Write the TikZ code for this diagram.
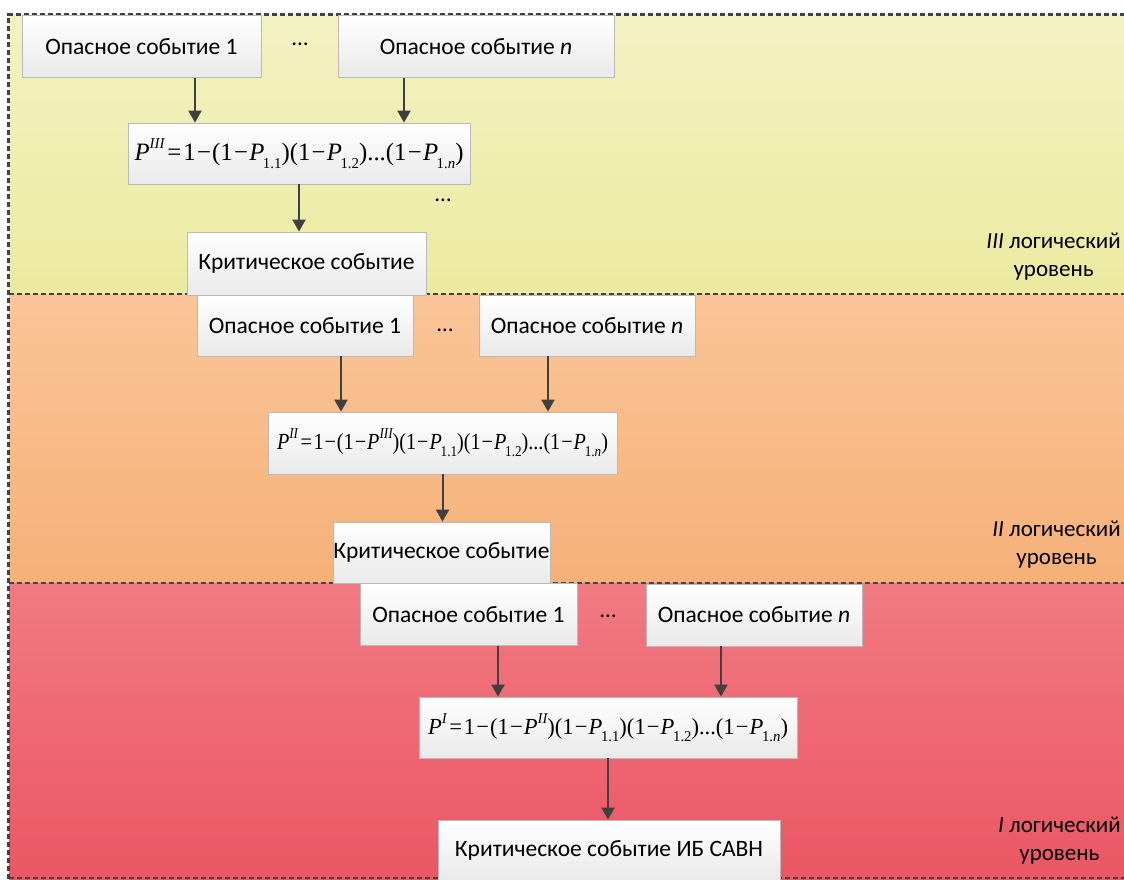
\documentclass[tikz,border=0pt]{standalone}
\usepackage{fontspec}
\setmainfont{Carlito}
\newfontfamily\tmsfont{Liberation Serif}
\usetikzlibrary{arrows.meta}

\definecolor{ylwtop}{RGB}{243,242,194}
\definecolor{ylwbot}{RGB}{236,234,160}
\definecolor{orgtop}{RGB}{250,197,152}
\definecolor{orgbot}{RGB}{246,176,120}
\definecolor{redtop}{RGB}{241,122,130}
\definecolor{redbot}{RGB}{235,86,100}
\definecolor{framec}{RGB}{60,68,78}
\definecolor{arrowc}{RGB}{64,64,64}

% pieces of the probability formulas
\newcommand\hiscr[1]{\raisebox{0.48em}{\fontsize{15}{15}\selectfont\itshape #1}}
\newcommand\loscr[1]{\kern-0.06em\raisebox{-0.3em}{\fontsize{15}{15}\selectfont #1}}
\newcommand\PV{\textit{P}}
\newcommand\mn{\kern0.05em−\kern0.05em}
\newcommand\eqs{\kern0.12em=\kern0.08em}
% formula set at a given size, then squeezed to a given width
\newlength\frmw
\newcommand\frm[3]{{\tmsfont\fontsize{#2}{30}\selectfont
  \settowidth\frmw{#3}\pgfmathsetmacro\frmsx{#1/\frmw}\scalebox{\frmsx}[1]{#3}}}

\tikzset{
  evbox/.style={draw=gray!55, line width=0.8pt, top color=white, bottom color=gray!17,
    font=\fontsize{23.5}{27}\selectfont, inner sep=0pt, minimum height=62},
  arr/.style={draw=arrowc, line width=2pt, -{Triangle[width=13pt,length=12pt]}},
  frame/.style={draw=framec, line width=2.2pt, dash pattern=on 5pt off 3pt},
  lvl/.style={align=center, font=\fontsize{23}{28}\selectfont, anchor=east, inner sep=0pt},
  dots/.style={font=\fontsize{23}{27}\selectfont, inner sep=0pt}
}

\begin{document}
\begin{tikzpicture}[x=1pt,y=-1pt]
\useasboundingbox (0,0) rectangle (1124,879);

% level bands
\shade[top color=ylwtop, bottom color=ylwbot] (9,14) rectangle (1124,294);
\shade[top color=orgtop, bottom color=orgbot] (9,294) rectangle (1124,583);
\shade[top color=redtop, bottom color=redbot] (9,583) rectangle (1124,879);

% dashed frame and level separators
\draw[frame] (8.5,879) -- (8.5,14.5) -- (1124,14.5);
\draw[frame] (8.5,294) -- (1124,294);
\draw[frame] (8.5,583) -- (1124,583);
\draw[frame] (8.5,878) -- (1124,878);

% level III
\node[evbox, minimum width=239] (a1) at (141.5,46.5) {Опасное событие 1};
\node[evbox, minimum width=276] (an) at (476,46.5) {Опасное событие \textit{n}};
\node[dots] (ad) at (300,44) {…};
\node[evbox, minimum width=342, minimum height=61] (f3) at (299,153.5)
  {\frm{329}{25}{\PV\hiscr{III}\eqs1\mn(1\mn\PV\loscr{1.1})(1\mn\PV\loscr{1.2})...(1\mn\PV\loscr{1.\textit{n}})}};
\node[dots] (fd3) at (443,200) {…};
\node[evbox, minimum width=239, minimum height=63] (k3) at (306.5,263.5) {Критическое событие};
\node[lvl] (l3) at (1121,257) {\textit{III} логический\\уровень};

\draw[arr] ([xshift=53.5pt]a1.south) -- ([xshift=53.5pt]a1.south |- f3.north);
\draw[arr] ([xshift=-72pt]an.south) -- ([xshift=-72pt]an.south |- f3.north);
\draw[arr] (f3.south) -- (f3.south |- k3.north);

% level II
\node[evbox, minimum width=216, minimum height=61] (b1) at (305,325.5) {Опасное событие 1};
\node[evbox, minimum width=216, minimum height=61] (bn) at (587,325.5) {Опасное событие \textit{n}};
\node[dots] (bd) at (445,330) {…};
\node[evbox, minimum width=349] (f2) at (442.5,443)
  {\frm{331}{23}{\PV\hiscr{II}\eqs1\mn(1\mn\PV\hiscr{III})(1\mn\PV\loscr{1.1})(1\mn\PV\loscr{1.2})...(1\mn\PV\loscr{1.\textit{n}})}};
\node[evbox, minimum width=217, minimum height=61] (k2) at (441.5,552.5) {Критическое событие};
\node[lvl] (l2) at (1121,545) {\textit{II} логический\\уровень};

\draw[arr] ([xshift=36pt]b1.south) -- ([xshift=36pt]b1.south |- f2.north);
\draw[arr] ([xshift=-39pt]bn.south) -- ([xshift=-39pt]bn.south |- f2.north);
\draw[arr] (f2.south) -- (f2.south |- k2.north);

% level I
\node[evbox, minimum width=217] (c1) at (468.5,614.5) {Опасное событие 1};
\node[evbox, minimum width=216] (cn) at (754,615) {Опасное событие \textit{n}};
\node[dots] (cd) at (608,616) {…};
\node[evbox, minimum width=378, minimum height=61] (f1) at (608,727.5)
  {\frm{360}{23}{\PV\hiscr{I}\eqs1\mn(1\mn\PV\hiscr{II})(1\mn\PV\loscr{1.1})(1\mn\PV\loscr{1.2})...(1\mn\PV\loscr{1.\textit{n}})}};
\node[evbox, minimum width=342, minimum height=60] (k1) at (609,850) {Критическое событие ИБ САВН};
\node[lvl] (l1) at (1121,841) {\textit{I} логический\\уровень};

\draw[arr] ([xshift=29.5pt]c1.south) -- ([xshift=29.5pt]c1.south |- f1.north);
\draw[arr] ([xshift=-33pt]cn.south) -- ([xshift=-33pt]cn.south |- f1.north);
\draw[arr] (f1.south) -- (f1.south |- k1.north);
\end{tikzpicture}
\end{document}
